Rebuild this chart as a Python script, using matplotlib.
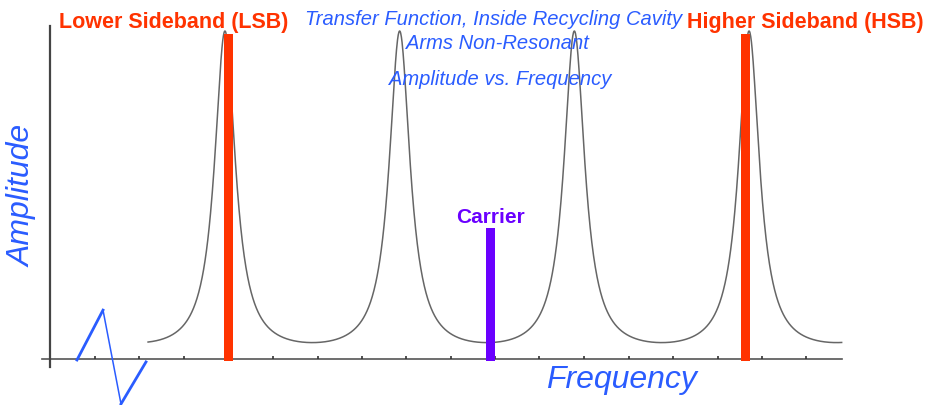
import matplotlib.pyplot as plt
import numpy as np

# frequency in units of the cavity FSR, carrier near 0
RESONANCES = [-1.5, -0.5, 0.5, 1.5]
COEF_FINESSE = 19.0
CURVE_RANGE = [-1.94, 2.03]

SIDEBAND_FREQS = [-1.48, 1.48]
SIDEBAND_AMPS = [0.99, 0.99]
SIDEBAND_LABELS = ["Lower Sideband (LSB)", "Higher Sideband (HSB)"]
CARRIER_FREQ = 0.02
CARRIER_AMP = 0.40

TICKS = [-2.244, -1.992, -1.734, -1.477, -1.225, -0.967, -0.716, -0.464,
         -0.206, 0.046, 0.298, 0.555, 0.813, 1.065, 1.322, 1.574, 1.826]

# axis break zig-zag
BREAK_X = [-2.347, -2.198, -2.095, -1.952]
BREAK_Y = [-0.003, 0.149, -0.137, -0.009]

BLUE = "#2a5cff"
RED = "#ff3300"
PURPLE = "#6a00ff"

plt.rcParams['font.family'] = ['Liberation Sans', 'DejaVu Sans']

PX_X = 174.7  # pixels per FSR
PX_Y = 328.0  # pixels per unit amplitude


def fx(px):
    return (px - 487) / PX_X


def fy(py):
    return (360 - py) / PX_Y


fig = plt.figure(figsize=(9.35, 4.06), dpi=100)
ax = fig.add_axes([0, 0, 1, 1])
ax.set_xlim(fx(0), fx(935))
ax.set_ylim(fy(406), fy(0))
ax.axis("off")

# axes lines
ax.plot([fx(42), fx(842)], [0, 0], color="#555555", lw=1.2, zorder=2)
ax.plot([fx(50), fx(50)], [fy(27), fy(368)], color="#444444", lw=1.6, zorder=2)
ax.vlines(TICKS, 0, fy(357), color="#333333", lw=1.2, zorder=2)

# transfer function
f = np.linspace(CURVE_RANGE[0], CURVE_RANGE[1], 2000)
amp = 1.0 / (1.0 + COEF_FINESSE * np.sin(np.pi * (f - RESONANCES[0])) ** 2)
ax.plot(f, amp, color="#666666", lw=1.1, zorder=3)

# sidebands and carrier
low = fy(362)
ax.bar(SIDEBAND_FREQS, np.array(SIDEBAND_AMPS) - low, bottom=low,
       width=9 / PX_X, color=RED, zorder=4)
ax.bar([CARRIER_FREQ], [CARRIER_AMP - low], bottom=low,
       width=8.5 / PX_X, color=PURPLE, zorder=4)

ax.text(fx(174), fy(28), SIDEBAND_LABELS[0], color=RED, fontsize=15.5,
        fontweight="bold", ha="center", va="baseline")
ax.text(fx(805), fy(28), SIDEBAND_LABELS[1], color=RED, fontsize=15.5,
        fontweight="bold", ha="center", va="baseline")
ax.text(fx(491), fy(223), "Carrier", color=PURPLE, fontsize=15,
        fontweight="bold", ha="center", va="baseline")

# titles
ax.text(fx(494), fy(25), "Transfer Function, Inside Recycling Cavity",
        color=BLUE, fontsize=14.5, style="italic", ha="center", va="baseline")
ax.text(fx(497), fy(49), "Arms Non-Resonant",
        color=BLUE, fontsize=14.5, style="italic", ha="center", va="baseline")
ax.text(fx(500), fy(85), "Amplitude vs. Frequency",
        color=BLUE, fontsize=14.5, style="italic", ha="center", va="baseline")

# axis labels
ax.text(fx(621), fy(388), "Frequency", color=BLUE, fontsize=23,
        style="italic", ha="center", va="baseline")
ax.text(fx(23), fy(196), "Amplitude", color=BLUE, fontsize=23,
        style="italic", ha="center", va="center", rotation=90)

# axis break
ax.plot(BREAK_X[:2], BREAK_Y[:2], color=BLUE, lw=2, zorder=5)
ax.plot(BREAK_X[1:3], BREAK_Y[1:3], color=BLUE, lw=1.1, zorder=5)
ax.plot(BREAK_X[2:], BREAK_Y[2:], color=BLUE, lw=2, zorder=5)

fig.savefig("out.png", dpi=100)
